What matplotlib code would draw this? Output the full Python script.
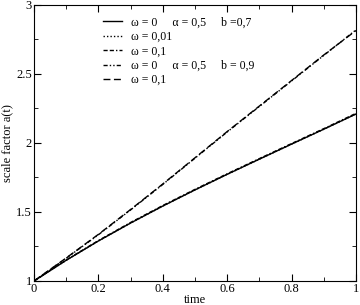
import matplotlib
matplotlib.use('Agg')
import matplotlib.pyplot as plt
from matplotlib.ticker import MultipleLocator

plt.rcParams['font.family'] = ['Liberation Serif', 'DejaVu Serif']

# time grid and scale factor values
time = [0.0, 0.1, 0.2, 0.3, 0.4, 0.5, 0.6, 0.7, 0.8, 0.9, 1.0]
a_b07_w0 = [1.0, 1.15, 1.29, 1.42, 1.543, 1.66, 1.773, 1.883, 1.992, 2.10, 2.21]
a_b07_w001 = [1.0, 1.15, 1.29, 1.42, 1.543, 1.66, 1.773, 1.883, 1.992, 2.10, 2.21]
a_b07_w01 = [1.0, 1.152, 1.293, 1.424, 1.547, 1.664, 1.777, 1.887, 1.996, 2.104, 2.215]
a_b09_w0 = [1.0, 1.165, 1.335, 1.515, 1.70, 1.89, 2.08, 2.265, 2.45, 2.635, 2.82]
a_b09_w01 = [1.0, 1.167, 1.338, 1.518, 1.703, 1.893, 2.083, 2.268, 2.453, 2.638, 2.815]

labels = ['ω = 0     α = 0,5     b =0,7', 'ω = 0,01', 'ω = 0,1',
          'ω = 0     α = 0,5     b = 0,9', 'ω = 0,1']

x_ticks = [0, 0.2, 0.4, 0.6, 0.8, 1]
x_ticklabels = ['0', '0.2', '0.4', '0.6', '0.8', '1']
y_ticks = [1, 1.5, 2, 2.5, 3]
y_ticklabels = ['1', '1.5', '2', '2.5', '3']

fig = plt.figure(figsize=(3.6, 3.05), dpi=100)
ax = fig.add_axes([0.0944, 0.0787, 0.8946, 0.905])

ax.plot(time, a_b07_w0, color='black', lw=1.0, ls='-', label=labels[0])
ax.plot(time, a_b07_w001, color='black', lw=1.0, ls=(0, (1, 1.5)), label=labels[1])
ax.plot(time, a_b07_w01, color='black', lw=1.0, ls=(0, (3, 1.5, 3, 1.5, 1, 1.5)), label=labels[2])
ax.plot(time, a_b09_w0, color='black', lw=1.0, ls=(0, (3, 1.5, 1, 1.5, 1, 1.5)), label=labels[3])
ax.plot(time, a_b09_w01, color='black', lw=1.0, ls=(0, (5, 2.5)), label=labels[4])

ax.set_xlim(0, 1)
ax.set_ylim(1, 3)
ax.set_xticks(x_ticks, x_ticklabels)
ax.set_yticks(y_ticks, y_ticklabels)
ax.xaxis.set_minor_locator(MultipleLocator(0.1))
ax.yaxis.set_minor_locator(MultipleLocator(0.25))
ax.tick_params(which='both', direction='in', top=True, right=True, labelsize=9, pad=1.5)
ax.tick_params(which='major', length=5)
ax.tick_params(which='minor', length=3)

ax.set_xlabel('time', fontsize=9, labelpad=-1)
ax.set_ylabel('scale factor a(t)', fontsize=9, labelpad=2)

ax.legend(loc='upper left', bbox_to_anchor=(0.2, 0.975), frameon=False, fontsize=8.5,
          handlelength=1.6, handletextpad=0.8, labelspacing=0.2, borderaxespad=0)

fig.savefig('out.png', dpi=100)
